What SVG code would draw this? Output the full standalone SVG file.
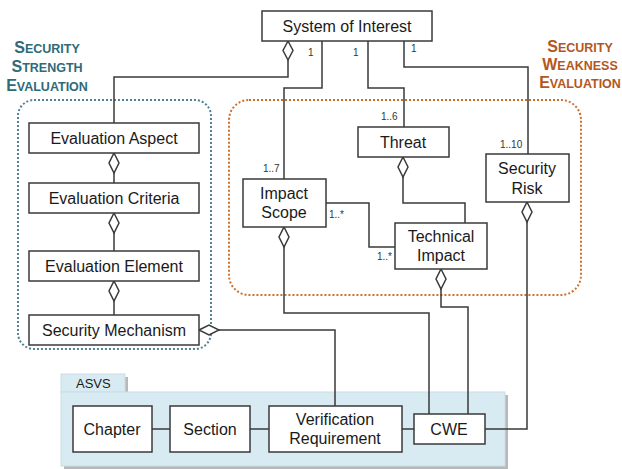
<svg xmlns="http://www.w3.org/2000/svg" width="622" height="469" viewBox="0 0 622 469">
<style>
.box{fill:#fff;stroke:#3a3a3a;stroke-width:1.5}
.t{font-family:"Liberation Sans",Arial,sans-serif;font-size:16px;fill:#1a1a1a;text-anchor:middle}
.m{font-family:"Liberation Sans",Arial,sans-serif;font-size:10px;fill:#333}
.ln{fill:none;stroke:#3a3a3a;stroke-width:1.5}
.dia{fill:#fff;stroke:#3a3a3a;stroke-width:1.5}
.h{font-family:"Liberation Sans",Arial,sans-serif;font-weight:bold;text-anchor:middle}
</style>
<!-- containers -->
<g id="strength-container">
<rect x="18" y="100" width="193" height="249" rx="16" fill="none" stroke="#4d8299" stroke-width="2" stroke-dasharray="2,2"/>
<text class="h" fill="#2f6a78" x="47" y="53"><tspan font-size="16">S</tspan><tspan font-size="12.5">ECURITY</tspan></text>
<text class="h" fill="#2f6a78" x="47" y="72"><tspan font-size="16">S</tspan><tspan font-size="12.5">TRENGTH</tspan></text>
<text class="h" fill="#2f6a78" x="47" y="91"><tspan font-size="16">E</tspan><tspan font-size="12.5">VALUATION</tspan></text>
</g>
<g id="weakness-container">
<rect x="229" y="100" width="352" height="195" rx="20" fill="none" stroke="#cf6f2c" stroke-width="2" stroke-dasharray="2,2"/>
<text class="h" fill="#b4561d" x="580" y="52"><tspan font-size="16">S</tspan><tspan font-size="12.5">ECURITY</tspan></text>
<text class="h" fill="#b4561d" x="580" y="70"><tspan font-size="16">W</tspan><tspan font-size="12.5">EAKNESS</tspan></text>
<text class="h" fill="#b4561d" x="580" y="88"><tspan font-size="16">E</tspan><tspan font-size="12.5">VALUATION</tspan></text>
</g>
<g id="asvs">
<rect x="64" y="377" width="64" height="18" fill="#b8b8b8"/>
<rect x="64" y="395" width="444" height="74" fill="#b8b8b8"/>
<rect x="61" y="374" width="64" height="18" fill="#d9ebf2" stroke="#c9dde6" stroke-width="1"/>
<rect x="61" y="392" width="444" height="74" fill="#d9ebf2" stroke="#c9dde6" stroke-width="1"/>
<text x="76" y="388" font-family="'Liberation Sans',Arial,sans-serif" font-size="13" fill="#1a1a1a">ASVS</text>
</g>
<!-- connectors -->
<g id="connectors">
<path class="ln" d="M288,60 V77 H114 V123"/>
<path class="ln" d="M322,41 V88 H284 V179"/>
<path class="ln" d="M368,41 V88 H404 V127"/>
<path class="ln" d="M404,41 V67 H528 V154"/>
<path class="ln" d="M326,203 H369 V247 H395"/>
<path class="ln" d="M403,177 V203 H465 V223"/>
<path class="ln" d="M284,247 V313 H429 V414"/>
<path class="ln" d="M441,289 V307 H468 V414"/>
<path class="ln" d="M527,222 V429 H485"/>
<path class="ln" d="M219,330 H335 V406"/>
<path class="ln" d="M114,173 V183"/>
<path class="ln" d="M114,233 V251"/>
<path class="ln" d="M114,301 V315"/>
<path class="ln" d="M152,429 H170"/>
<path class="ln" d="M250,429 H269"/>
<path class="ln" d="M402,429 H414"/>
<path class="dia" d="M288,41 l5,9.5 l-5,9.5 l-5,-9.5 z"/>
<path class="dia" d="M114,153 l5,10 l-5,10 l-5,-10 z"/>
<path class="dia" d="M114,213 l5,10 l-5,10 l-5,-10 z"/>
<path class="dia" d="M114,281 l5,10 l-5,10 l-5,-10 z"/>
<path class="dia" d="M199,330 l10,-5 l10,5 l-10,5 z"/>
<path class="dia" d="M403,157 l5,10 l-5,10 l-5,-10 z"/>
<path class="dia" d="M284,227 l5,10 l-5,10 l-5,-10 z"/>
<path class="dia" d="M441,269 l5,10 l-5,10 l-5,-10 z"/>
<path class="dia" d="M527,202 l5,10 l-5,10 l-5,-10 z"/>
<text class="m" x="308" y="56">1</text>
<text class="m" x="353" y="56">1</text>
<text class="m" x="411" y="52">1</text>
<text class="m" x="381" y="120">1..6</text>
<text class="m" x="500" y="148">1..10</text>
<text class="m" x="263" y="172">1..7</text>
<text class="m" x="329" y="218">1..*</text>
<text class="m" x="377" y="260">1..*</text>
</g>
<!-- nodes -->
<g id="system-of-interest"><rect class="box" x="262" y="11" width="170" height="30"/><text class="t" x="347" y="32">System of Interest</text></g>
<g id="evaluation-aspect"><rect class="box" x="29" y="123" width="170" height="30"/><text class="t" x="114" y="144">Evaluation Aspect</text></g>
<g id="evaluation-criteria"><rect class="box" x="29" y="183" width="170" height="30"/><text class="t" x="114" y="204">Evaluation Criteria</text></g>
<g id="evaluation-element"><rect class="box" x="29" y="251" width="170" height="30"/><text class="t" x="114" y="272">Evaluation Element</text></g>
<g id="security-mechanism"><rect class="box" x="29" y="315" width="170" height="30"/><text class="t" x="114" y="336">Security Mechanism</text></g>
<g id="threat"><rect class="box" x="358" y="127" width="91" height="30"/><text class="t" x="403" y="148">Threat</text></g>
<g id="security-risk"><rect class="box" x="486" y="154" width="83" height="48"/><text class="t" x="527" y="174">Security</text><text class="t" x="527" y="194">Risk</text></g>
<g id="impact-scope"><rect class="box" x="243" y="179" width="83" height="48"/><text class="t" x="284" y="199">Impact</text><text class="t" x="284" y="218">Scope</text></g>
<g id="technical-impact"><rect class="box" x="395" y="223" width="92" height="46"/><text class="t" x="441" y="242">Technical</text><text class="t" x="441" y="261">Impact</text></g>
<g id="chapter"><rect class="box" x="73" y="406" width="79" height="46"/><text class="t" x="112" y="435">Chapter</text></g>
<g id="section"><rect class="box" x="170" y="406" width="80" height="46"/><text class="t" x="210" y="435">Section</text></g>
<g id="verification-requirement"><rect class="box" x="269" y="406" width="133" height="46"/><text class="t" x="335" y="425">Verification</text><text class="t" x="335" y="444">Requirement</text></g>
<g id="cwe"><rect class="box" x="414" y="414" width="71" height="30"/><text class="t" x="449" y="435">CWE</text></g>
</svg>
